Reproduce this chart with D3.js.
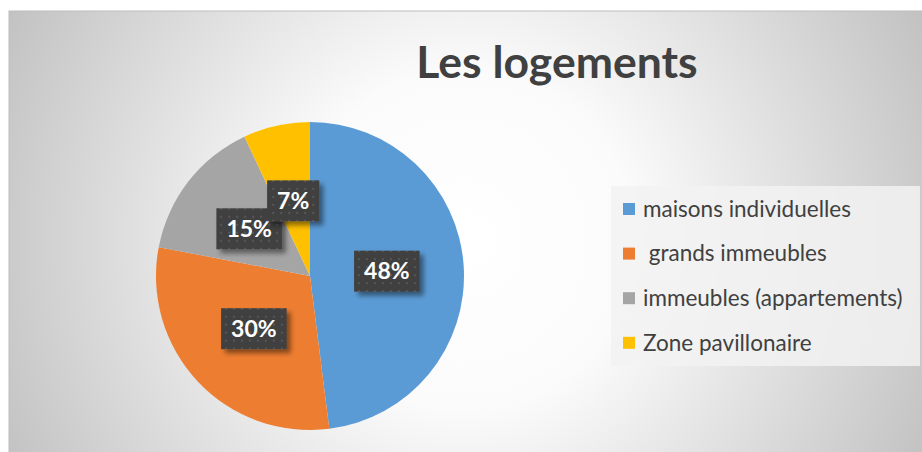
<!DOCTYPE html>
<html><head><meta charset="utf-8">
<script src="https://cdn.jsdelivr.net/npm/d3@7"></script>
<style>html,body{margin:0;padding:0;background:#fff;overflow:hidden}</style>
</head><body>
<svg id="c" width="922" height="452"></svg>
<script>
const categories = ["maisons individuelles", " grands immeubles", "immeubles (appartements)", "Zone pavillonaire"];
const values = [48, 30, 15, 7];
const colors = ["#5B9BD5", "#ED7D31", "#A5A5A5", "#FFC000"];
const title = "Les logements";

const svg = d3.select("#c");
const defs = svg.append("defs");
const W = 922, H = 452;
const area = {x: 9, y: 11, w: W - 9 + 5, h: H - 11 + 5};
const FONT = "Lato, Carlito, 'Open Sans', sans-serif";

const rg = defs.append("radialGradient").attr("id", "bg").attr("gradientUnits", "userSpaceOnUse")
  .attr("cx", 465).attr("cy", 240).attr("r", 510);
rg.append("stop").attr("offset", "0%").attr("stop-color", "#ffffff");
rg.append("stop").attr("offset", "33%").attr("stop-color", "#fbfbfb");
rg.append("stop").attr("offset", "100%").attr("stop-color", "#c2c2c2");

const pat = defs.append("pattern").attr("id", "dots").attr("patternUnits", "userSpaceOnUse")
  .attr("width", 8).attr("height", 8);
pat.append("rect").attr("width", 8).attr("height", 8).attr("fill", "#404040");
pat.append("rect").attr("x", 3).attr("y", 3).attr("width", 2).attr("height", 2).attr("fill", "#575757");

const f = defs.append("filter").attr("id", "sh").attr("x", "-30%").attr("y", "-30%").attr("width", "160%").attr("height", "170%");
f.append("feDropShadow").attr("dx", 4).attr("dy", 4).attr("stdDeviation", 2.5).attr("flood-color", "#000").attr("flood-opacity", 0.45);

svg.append("rect").attr("x", area.x).attr("y", area.y).attr("width", area.w).attr("height", area.h)
  .attr("fill", "url(#bg)").attr("stroke", "#bdbdbd").attr("stroke-width", 1);

svg.append("text").attr("x", 557).attr("y", 78).attr("text-anchor", "middle")
  .attr("font-family", FONT).attr("font-weight", 700).attr("font-size", 44.5)
  .attr("fill", "#404040").text(title);

const cx = 310, cy = 276, R = 154;
const pie = d3.pie().sort(null).value(d => d);
const arcs = pie(values);
const arc = d3.arc().innerRadius(0).outerRadius(R);
const g = svg.append("g").attr("transform", `translate(${cx},${cy})`);
g.selectAll("path.s").data(arcs).join("path").attr("class", "s")
  .attr("d", arc).attr("fill", (d, i) => colors[i]);

const total = d3.sum(values);
arcs.forEach((d, i) => {
  const [lx, ly] = arc.centroid(d);
  const lg = g.append("g").attr("transform", `translate(${lx},${ly})`);
  const rect = lg.append("rect").attr("fill", "url(#dots)").attr("filter", "url(#sh)");
  const t = lg.append("text").attr("text-anchor", "middle").attr("dy", "0.36em")
    .attr("font-family", FONT).attr("font-weight", 700).attr("font-size", 23)
    .attr("fill", "#ffffff").text(Math.round(d.value / total * 100) + "%");
  const tw = t.node().getComputedTextLength();
  const bw = tw + 20, bh = 41;
  rect.attr("x", -bw / 2).attr("y", -bh / 2).attr("width", bw).attr("height", bh);
});

const lgx = 611, lgy = 186;
svg.append("rect").attr("x", lgx).attr("y", lgy).attr("width", 309).attr("height", 180)
  .attr("fill", "#f2f2f2").attr("fill-opacity", 0.85);
const items = svg.append("g").selectAll("g").data(categories).join("g")
  .attr("transform", (d, i) => `translate(${lgx + 12},${lgy + 23 + i * 44.6})`);
items.append("rect").attr("x", 0).attr("y", -6).attr("width", 12).attr("height", 12)
  .attr("fill", (d, i) => colors[i]);
items.append("text").attr("x", 20).attr("dy", "0.35em").attr("xml:space", "preserve")
  .style("white-space", "pre")
  .attr("font-family", FONT).attr("font-size", 22.5).attr("fill", "#404040")
  .text(d => d);
</script>
</body></html>
